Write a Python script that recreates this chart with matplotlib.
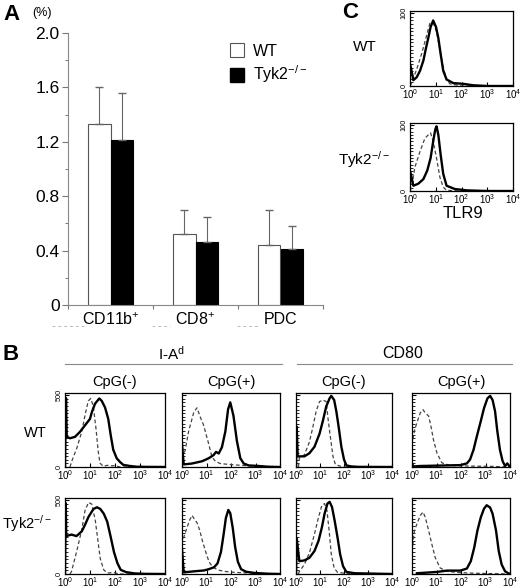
import numpy as np
import matplotlib
matplotlib.use("Agg")
import matplotlib.pyplot as plt
from matplotlib.ticker import MultipleLocator, NullFormatter
from matplotlib.lines import Line2D

plt.rcParams['font.family'] = ['Liberation Sans', 'DejaVu Sans']
plt.rcParams['mathtext.fontset'] = 'custom'
plt.rcParams['mathtext.rm'] = 'Liberation Sans'
plt.rcParams['mathtext.it'] = 'Liberation Sans:italic'
plt.rcParams['mathtext.bf'] = 'Liberation Sans:bold'

# ---------------- panel A data ----------------
cells = ['CD11b$^{+}$', 'CD8$^{+}$', 'PDC']
wt_pct = [1.33, 0.52, 0.44]
wt_err = [0.27, 0.18, 0.26]
ko_pct = [1.21, 0.46, 0.41]
ko_err = [0.35, 0.19, 0.17]

# ---------------- panel B data (x in decades, y in counts) ----------------
# WT, I-Ad, CpG(-)
wt_iad_neg_sx = [0, 0.04, 0.07, 0.2, 0.4, 0.6, 0.8, 1.0, 1.07, 1.2, 1.37, 1.47, 1.6, 1.73, 1.83, 1.93, 2.07, 2.2, 2.33, 2.6, 2.87, 3.2, 4.0]
wt_iad_neg_sy = [0, 480, 210, 200, 210, 245, 290, 335, 380, 440, 477, 460, 415, 335, 220, 120, 60, 35, 15, 7, 2, 1, 0]
wt_iad_neg_dx = [0.2, 0.27, 0.47, 0.67, 0.8, 0.93, 1.03, 1.13, 1.24, 1.33, 1.4, 1.53, 1.7, 1.85, 2.0, 2.2, 4.0]
wt_iad_neg_dy = [0, 40, 130, 245, 360, 460, 477, 425, 267, 107, 27, 5, 12, 8, 10, 0, 0]
# WT, I-Ad, CpG(+)
wt_iad_pos_sx = [0, 0.07, 0.4, 0.82, 1.09, 1.29, 1.39, 1.5, 1.63, 1.77, 1.88, 1.97, 2.1, 2.24, 2.38, 2.52, 2.72, 3.13, 3.5, 4.0]
wt_iad_pos_sy = [160, 18, 24, 40, 61, 83, 105, 94, 138, 248, 401, 450, 357, 182, 61, 24, 11, 7, 2, 0]
wt_iad_pos_dx = [0.0, 0.13, 0.27, 0.48, 0.61, 0.75, 0.88, 0.95, 1.09, 1.22, 1.36, 1.56, 1.9, 2.3, 2.86, 3.4, 4.0]
wt_iad_pos_dy = [60, 116, 248, 380, 412, 346, 292, 248, 160, 72, 40, 24, 18, 13, 7, 4, 0]
# WT, CD80, CpG(-)
wt_cd80_neg_sx = [0, 0.03, 0.07, 0.35, 0.56, 0.77, 0.98, 1.12, 1.26, 1.4, 1.47, 1.59, 1.68, 1.78, 1.89, 2.0, 2.1, 2.3, 2.6, 4.0]
wt_cd80_neg_sy = [0, 280, 74, 74, 96, 141, 231, 321, 422, 478, 495, 466, 388, 276, 141, 52, 11, 4, 1, 0]
wt_cd80_neg_dx = [0.1, 0.14, 0.35, 0.56, 0.7, 0.84, 0.98, 1.12, 1.26, 1.33, 1.45, 1.54, 1.64, 1.82, 2.0, 4.0]
wt_cd80_neg_dy = [0, 63, 85, 175, 276, 388, 455, 466, 455, 343, 186, 74, 18, 7, 0, 0]
# WT, CD80, CpG(+)
wt_cd80_pos_sx = [0.0, 0.07, 0.34, 1.42, 1.97, 2.24, 2.37, 2.51, 2.64, 2.81, 2.94, 3.08, 3.19, 3.29, 3.39, 3.48, 3.59, 3.7, 3.8, 3.89, 3.97, 4.0]
wt_cd80_pos_sy = [20, 4, 7, 11, 13, 25, 52, 119, 209, 321, 410, 478, 495, 466, 388, 253, 119, 40, 7, 25, 7, 0]
wt_cd80_pos_dx = [0.0, 0.1, 0.2, 0.34, 0.45, 0.54, 0.68, 0.77, 0.88, 1.02, 1.22, 1.56, 2.24, 3.32, 4.0]
wt_cd80_pos_dy = [150, 253, 309, 377, 399, 377, 354, 287, 186, 96, 29, 11, 7, 4, 0]
# Tyk2-/-, I-Ad, CpG(-)
ko_iad_neg_sx = [0, 0.03, 0.05, 0.26, 0.46, 0.67, 0.8, 0.94, 1.14, 1.28, 1.41, 1.55, 1.69, 1.82, 1.96, 2.1, 2.23, 2.44, 2.78, 3.2, 4.0]
ko_iad_neg_sy = [0, 480, 257, 267, 257, 289, 333, 387, 441, 452, 441, 409, 354, 257, 148, 72, 28, 13, 4, 1, 0]
ko_iad_neg_dx = [0.2, 0.26, 0.46, 0.67, 0.8, 0.94, 1.07, 1.21, 1.31, 1.41, 1.55, 1.69, 1.96, 2.2, 4.0]
ko_iad_neg_dy = [0, 17, 148, 300, 430, 485, 474, 365, 235, 104, 28, 7, 9, 0, 0]
# Tyk2-/-, I-Ad, CpG(+)
ko_iad_pos_sx = [0.0, 0.07, 0.48, 0.9, 1.1, 1.31, 1.45, 1.59, 1.7, 1.79, 1.89, 1.97, 2.07, 2.17, 2.28, 2.41, 2.62, 2.97, 3.5, 4.0]
ko_iad_pos_sy = [170, 11, 18, 24, 33, 46, 72, 149, 270, 379, 434, 412, 314, 182, 83, 33, 15, 7, 2, 0]
ko_iad_pos_dx = [0.0, 0.07, 0.18, 0.32, 0.41, 0.52, 0.62, 0.73, 0.83, 0.97, 1.1, 1.24, 1.45, 1.72, 2.14, 2.69, 3.1, 4.0]
ko_iad_pos_dy = [200, 248, 303, 368, 397, 368, 346, 292, 226, 149, 83, 50, 28, 18, 11, 7, 4, 0]
# Tyk2-/-, CD80, CpG(-)
ko_cd80_neg_sx = [0, 0.03, 0.14, 0.35, 0.56, 0.77, 0.94, 1.08, 1.19, 1.31, 1.4, 1.5, 1.61, 1.73, 1.84, 1.96, 2.1, 2.46, 4.0]
ko_cd80_neg_sy = [0, 240, 87, 92, 110, 156, 225, 317, 408, 477, 489, 454, 362, 248, 133, 53, 14, 5, 0]
ko_cd80_neg_dx = [0.1, 0.14, 0.35, 0.56, 0.77, 0.94, 1.08, 1.19, 1.29, 1.38, 1.47, 1.59, 1.73, 2.04, 4.0]
ko_cd80_neg_dy = [0, 18, 64, 144, 271, 385, 466, 477, 431, 294, 133, 41, 11, 5, 0]
# Tyk2-/-, CD80, CpG(+)
ko_cd80_pos_sx = [0.2, 1.02, 1.42, 1.97, 2.24, 2.4, 2.54, 2.67, 2.81, 2.94, 3.05, 3.19, 3.29, 3.43, 3.54, 3.66, 3.8, 3.93, 4.0]
ko_cd80_pos_sy = [5, 14, 23, 23, 37, 87, 179, 294, 385, 443, 466, 450, 408, 294, 156, 64, 18, 5, 0]
ko_cd80_pos_dx = [0.0, 0.1, 0.2, 0.34, 0.45, 0.54, 0.68, 0.81, 0.95, 1.15, 1.42, 1.97, 2.64, 4.0]
ko_cd80_pos_dy = [150, 294, 339, 397, 420, 385, 294, 202, 110, 41, 18, 9, 5, 0]

# ---------------- panel C data ----------------
wt_tlr9_sx = [0, 0.03, 0.13, 0.26, 0.39, 0.52, 0.62, 0.71, 0.8, 0.9, 1.01, 1.1, 1.19, 1.29, 1.42, 1.68, 2.06, 2.45, 3.0, 4.0]
wt_tlr9_sy = [30, 26, 8, 12, 21, 35, 52, 66, 81, 90, 81, 66, 44, 21, 9, 4, 3, 1, 0, 0]
wt_tlr9_dx = [0.0, 0.06, 0.26, 0.45, 0.62, 0.77, 0.9, 1.03, 1.16, 1.29, 1.42, 1.55, 2.0, 4.0]
wt_tlr9_dy = [0, 4, 23, 44, 66, 86, 87, 75, 50, 26, 8, 3, 0, 0]
ko_tlr9_sx = [0, 0.03, 0.13, 0.32, 0.52, 0.67, 0.8, 0.9, 0.98, 1.03, 1.1, 1.19, 1.29, 1.42, 1.74, 2.19, 3.0, 4.0]
ko_tlr9_sy = [30, 26, 8, 11, 18, 31, 50, 75, 93, 98, 85, 55, 26, 8, 3, 1, 0, 0]
ko_tlr9_dx = [0.0, 0.06, 0.19, 0.39, 0.58, 0.71, 0.8, 0.9, 1.03, 1.16, 1.29, 1.42, 2.0, 4.0]
ko_tlr9_dy = [0, 6, 36, 60, 80, 85, 88, 75, 50, 21, 6, 1, 0, 0]

W, H = 520, 588
fig = plt.figure(figsize=(W / 100, H / 100), dpi=100)


def px(l, t, r, b):
    return [l / W, 1 - b / H, (r - l) / W, (b - t) / H]


def ftext(x, y, s, **kw):
    fig.text(x / W, 1 - y / H, s, **kw)


# ---------------- panel A ----------------
ax = fig.add_axes(px(68, 33, 323, 305))
pos = np.arange(len(cells)) + 0.5
bw = 0.26
ax.bar(pos - bw / 2, wt_pct, bw, color='white', edgecolor='#555555', linewidth=0.8)
ax.bar(pos + bw / 2, ko_pct, bw, color='black', edgecolor='black', linewidth=0.8)
ax.errorbar(pos - bw / 2, wt_pct, yerr=[np.zeros(3), wt_err], fmt='none',
            ecolor='#666666', elinewidth=0.8, capsize=3)
ax.errorbar(pos + bw / 2, ko_pct, yerr=[np.zeros(3), ko_err], fmt='none',
            ecolor='#666666', elinewidth=0.8, capsize=3)
ax.set_xlim(0, 3)
ax.set_ylim(0, 2.0)
ax.set_yticks([0, 0.4, 0.8, 1.2, 1.6, 2.0])
ax.set_yticklabels(['0', '0.4', '0.8', '1.2', '1.6', '2.0'], fontsize=12.5)
ax.yaxis.set_minor_locator(MultipleLocator(0.2))
ax.set_xticks([0, 1, 2, 3])
ax.set_xticklabels([])
for p, c in zip(pos, cells):
    ax.text(p, -0.05, c, ha='center', va='top', fontsize=11.5)
ax.tick_params(axis='y', which='major', length=4, color='#777777', width=0.8, pad=2)
ax.tick_params(axis='y', which='minor', length=2.5, color='#777777', width=0.7)
ax.tick_params(axis='x', length=3, color='#777777', width=0.8)
for s in ['top', 'right']:
    ax.spines[s].set_visible(False)
for s in ['left', 'bottom']:
    ax.spines[s].set_color('#888888')
    ax.spines[s].set_linewidth(0.8)

legend_handles = [plt.Rectangle((0, 0), 1, 1, facecolor='white', edgecolor='#555555', linewidth=0.8),
                  plt.Rectangle((0, 0), 1, 1, facecolor='black', edgecolor='black')]
ax.legend(legend_handles, ['WT', 'Tyk2$^{-/-}$'], frameon=False, fontsize=11.5,
          loc='upper left', bbox_to_anchor=(0.61, 0.985), handlelength=0.85,
          handleheight=0.95, handletextpad=0.6, labelspacing=0.3, borderaxespad=0)

# faint dashed artefacts under the category labels
for x0, x1 in [(52, 85), (152, 170), (237, 260)]:
    fig.add_artist(Line2D([x0 / W, x1 / W], [1 - 326 / H] * 2, color='#bbbbbb',
                          linewidth=0.7, linestyle=(0, (3, 3))))

ftext(3, 14, 'A', fontsize=16, fontweight='bold', va='center')
ftext(32, 13, '(%)', fontsize=9, va='center')


# ---------------- histograms ----------------
def histo(rect, sx, sy, dx, dy, ymax, ylab, step):
    h = fig.add_axes(rect)
    h.plot(np.power(10.0, dx), dy, color='#444444', linewidth=0.9, linestyle=(0, (3, 2)))
    h.plot(np.power(10.0, sx), sy, color='black', linewidth=1.7)
    h.set_xscale('log')
    h.set_xlim(1, 1e4)
    h.set_ylim(0, ymax * 1.03)
    h.set_xticks([1, 10, 100, 1000, 10000])
    h.xaxis.set_minor_formatter(NullFormatter())
    h.set_yticks([0, ymax])
    h.yaxis.set_minor_locator(MultipleLocator(step))
    if ylab:
        h.set_yticklabels(['0', str(ymax)], rotation=90, va='center', fontsize=5.3)
    else:
        h.set_yticklabels([])
    h.tick_params(axis='x', which='major', direction='in', length=3, width=0.8,
                  labelsize=7, pad=0.8)
    h.tick_params(axis='x', which='minor', direction='in', length=1.8, width=0.6)
    h.tick_params(axis='y', which='major', direction='in', length=3, width=0.8, pad=1.5)
    h.tick_params(axis='y', which='minor', direction='in', length=2, width=0.6)
    for s in h.spines.values():
        s.set_linewidth(0.9)
    return h


cols = [(65, 165), (182, 280), (296, 392), (412, 510)]
rows = [(393, 467), (498, 574)]
b_panels = [
    [(wt_iad_neg_sx, wt_iad_neg_sy, wt_iad_neg_dx, wt_iad_neg_dy),
     (wt_iad_pos_sx, wt_iad_pos_sy, wt_iad_pos_dx, wt_iad_pos_dy),
     (wt_cd80_neg_sx, wt_cd80_neg_sy, wt_cd80_neg_dx, wt_cd80_neg_dy),
     (wt_cd80_pos_sx, wt_cd80_pos_sy, wt_cd80_pos_dx, wt_cd80_pos_dy)],
    [(ko_iad_neg_sx, ko_iad_neg_sy, ko_iad_neg_dx, ko_iad_neg_dy),
     (ko_iad_pos_sx, ko_iad_pos_sy, ko_iad_pos_dx, ko_iad_pos_dy),
     (ko_cd80_neg_sx, ko_cd80_neg_sy, ko_cd80_neg_dx, ko_cd80_neg_dy),
     (ko_cd80_pos_sx, ko_cd80_pos_sy, ko_cd80_pos_dx, ko_cd80_pos_dy)],
]
for r, (t, b) in enumerate(rows):
    for c, (l, rr) in enumerate(cols):
        sx, sy, dx, dy = b_panels[r][c]
        histo(px(l, t, rr, b), sx, sy, dx, dy, 500, c == 0, 25)

ftext(3, 355, 'B', fontsize=16, fontweight='bold', va='center')
ftext(171, 354, 'I-A$^{\\mathrm{d}}$', fontsize=11, ha='center', va='center')
ftext(403, 354, 'CD80', fontsize=11.5, ha='center', va='center')
fig.add_artist(Line2D([65 / W, 282 / W], [1 - 364 / H] * 2, color='#888888', linewidth=0.8))
fig.add_artist(Line2D([297 / W, 512 / W], [1 - 364 / H] * 2, color='#888888', linewidth=0.8))
for (l, rr), lab in zip(cols, ['CpG(-)', 'CpG(+)', 'CpG(-)', 'CpG(+)']):
    ftext((l + rr) / 2, 382, lab, fontsize=10.5, ha='center', va='center')
ftext(35, 433, 'WT', fontsize=10.5, ha='center', va='center')
ftext(2, 524, 'Tyk2$^{-/-}$', fontsize=10.5, ha='left', va='center')

# ---------------- panel C ----------------
histo(px(410, 11, 513, 86), wt_tlr9_sx, wt_tlr9_sy, wt_tlr9_dx, wt_tlr9_dy, 100, True, 5)
histo(px(410, 123, 513, 191), ko_tlr9_sx, ko_tlr9_sy, ko_tlr9_dx, ko_tlr9_dy, 100, True, 5)
ftext(342, 12, 'C', fontsize=16, fontweight='bold', va='center')
ftext(365, 47, 'WT', fontsize=11, ha='center', va='center')
ftext(364, 160, 'Tyk2$^{-/-}$', fontsize=11, ha='center', va='center')
ftext(463, 213, 'TLR9', fontsize=12, ha='center', va='center')

fig.savefig('out.png', dpi=100)
